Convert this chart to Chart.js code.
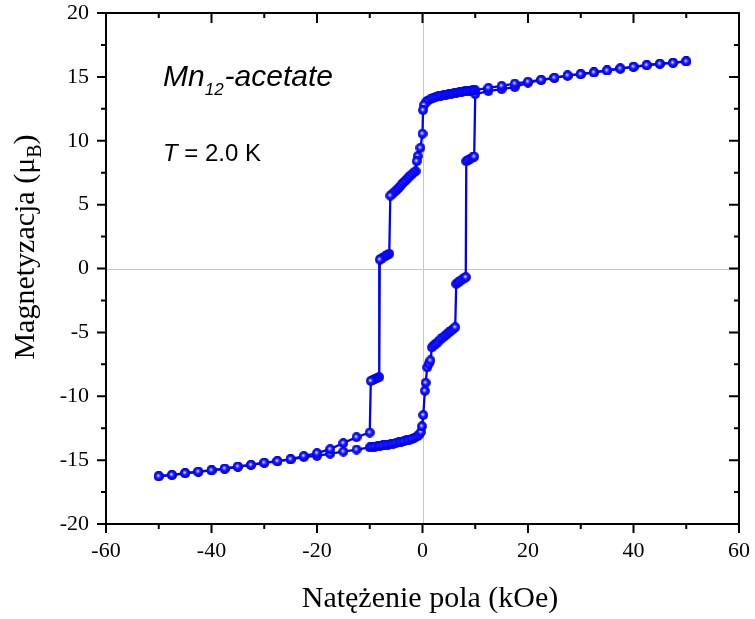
<!DOCTYPE html>
<html>
<head>
<meta charset="utf-8">
<script src="https://cdn.jsdelivr.net/npm/chart.js@4.4.1/dist/chart.umd.min.js"></script>
<style>
html,body{margin:0;padding:0;background:#fff;}
#wrap{width:755px;height:619px;}
</style>
</head>
<body>
<div id="wrap"><canvas id="c" width="755" height="619"></canvas></div>
<script>
// Descending branch (field swept from +50 to -50 kOe)
const descField = [50,47.5,45,42.5,40,37.5,35,32.5,30,27.5,25,22.5,20,17.5,15,12.5,10,
  9.5,9,8.5,8,7.5,7,6.5,6,5.5,5,4.5,4,3.5,3,2.5,2,1.5,1,0.6,0.3,0.1,0,-0.4,-0.9,-1.1,
  -1.3,-1.7,-2.1,-2.5,-2.9,-3.3,-3.7,-4.1,-4.5,-4.9,-5.3,-5.7,-6.1,
  -6.3,-6.7,-7.1,-7.5,-7.9,-8.1,
  -8.2,-8.6,-9.0,-9.4,-9.8,
  -10,-12.5,-15,-17.5,-20,-22.5,-25,-27.5,-30,-32.5,-35,-37.5,-40,-42.5,-45,-47.5,-50];
const descM = [16.21,16.1,16.03,15.92,15.79,15.66,15.5,15.35,15.22,15.11,14.93,14.77,14.62,14.48,14.3,14.14,13.96,
  13.94,13.91,13.88,13.86,13.83,13.8,13.77,13.73,13.69,13.65,13.61,13.57,13.52,13.47,13.41,13.34,13.26,13.15,13.0,12.8,12.4,10.55,9.45,8.8,8.4,
  7.62,7.5,7.35,7.2,7.02,6.85,6.7,6.5,6.32,6.15,6.0,5.85,5.7,
  1.15,1.05,0.95,0.86,0.76,0.7,
  -8.5,-8.57,-8.64,-8.72,-8.8,
  -12.84,-13.2,-13.66,-14.14,-14.45,-14.68,-14.92,-15.07,-15.2,-15.37,-15.5,-15.66,-15.79,-15.9,-16.01,-16.15,-16.26];

// Ascending branch (field swept from -50 to +50 kOe)
const ascField = [-50,-47.5,-45,-42.5,-40,-37.5,-35,-32.5,-30,-27.5,-25,-22.5,-20,-17.5,-15,-12.5,
  -10,-9.5,-9,-8.5,-8,-7.5,-7,-6.5,-6,-5.5,-5,-4.5,-4,-3.5,-3,-2.5,-2,-1.5,-1,-0.6,-0.3,-0.1,
  0.15,0.45,0.6,0.9,1.2,1.5,
  1.8,2.2,2.6,3.0,3.4,3.8,4.2,4.6,5.0,5.4,5.8,6.2,
  6.4,6.8,7.2,7.6,8.0,8.2,
  8.3,8.7,9.1,9.5,9.8,
  10,12.5,15,17.5,20,22.5,25,27.5,30,32.5,35,37.5,40,42.5,45,47.5,50];
const ascM = [-16.26,-16.17,-16.03,-15.92,-15.8,-15.68,-15.52,-15.38,-15.22,-15.1,-14.95,-14.76,-14.67,-14.5,-14.33,-14.17,
  -14.0,-13.97,-13.94,-13.91,-13.88,-13.85,-13.81,-13.78,-13.74,-13.7,-13.66,-13.62,-13.57,-13.52,-13.46,-13.4,-13.33,-13.25,-13.14,-13.0,-12.8,-12.35,
  -11.47,-9.57,-8.94,-7.74,-7.45,-7.2,
  -6.17,-6.0,-5.88,-5.72,-5.55,-5.42,-5.28,-5.15,-5.0,-4.88,-4.75,-4.6,
  -1.2,-1.08,-0.95,-0.84,-0.72,-0.68,
  8.4,8.5,8.6,8.7,8.76,
  13.65,13.88,14.04,14.2,14.55,14.75,14.92,15.09,15.21,15.35,15.5,15.65,15.79,15.91,16.02,16.11,16.21];

const xTicks = [-60,-40,-20,0,20,40,60];
const yTicks = [-20,-15,-10,-5,0,5,10,15,20];
const xTitle = 'Natężenie pola (kOe)';
const yTitleMain = 'Magnetyzacja (μ';
const yTitleSub = 'B';
const yTitleEnd = ')';
const labelName = 'Mn';
const labelSub = '12';
const labelRest = '-acetate';
const tempVar = 'T';
const tempText = ' = 2.0 K';

function zip(xs, ys){ return xs.map((x,i)=>({x:x, y:ys[i]})); }

// sphere-like marker
function makeSphere(){
  const s = 10;
  const cv = document.createElement('canvas');
  cv.width = s; cv.height = s;
  const g = cv.getContext('2d');
  const grad = g.createRadialGradient(4.3,4.3,0.2,5,5,5);
  grad.addColorStop(0,'#f0f0ff');
  grad.addColorStop(0.2,'#8080ff');
  grad.addColorStop(0.45,'#1818ff');
  grad.addColorStop(0.85,'#0000f5');
  grad.addColorStop(1,'#0000cc');
  g.fillStyle = grad;
  g.beginPath(); g.arc(5,5,4.9,0,Math.PI*2); g.fill();
  return cv;
}
const sphere = makeSphere();

const SERIF = "'Liberation Serif','Times New Roman',serif";
const SANS = "'Liberation Sans',Arial,sans-serif";

const decor = {
  id:'decor',
  beforeDatasetsDraw(chart){
    const ctx = chart.ctx, a = chart.chartArea;
    const xs = chart.scales.x, ys = chart.scales.y;
    ctx.save();
    ctx.strokeStyle = '#c8c8c8';
    ctx.lineWidth = 1;
    const x0 = Math.round(xs.getPixelForValue(0))+0.5;
    const y0 = Math.round(ys.getPixelForValue(0))+0.5;
    ctx.beginPath();
    ctx.moveTo(x0,a.top); ctx.lineTo(x0,a.bottom);
    ctx.moveTo(a.left,y0); ctx.lineTo(a.right,y0);
    ctx.stroke();
    ctx.restore();
  },
  afterDraw(chart){
    const ctx = chart.ctx, a = chart.chartArea;
    const xs = chart.scales.x, ys = chart.scales.y;
    ctx.save();
    ctx.strokeStyle = '#000';
    ctx.lineWidth = 2;
    ctx.strokeRect(a.left, a.top, a.right-a.left, a.bottom-a.top);
    for (let v=-60; v<=60; v+=10){
      const major = (v % 20 === 0);
      const px = xs.getPixelForValue(v);
      ctx.beginPath();
      ctx.moveTo(px, a.bottom); ctx.lineTo(px, a.bottom + (major?9:5));
      ctx.moveTo(px, a.top); ctx.lineTo(px, a.top + (major?10:5));
      ctx.stroke();
    }
    for (let v=-20; v<=20; v+=2.5){
      const major = (Math.abs(v % 5) < 1e-9);
      const py = ys.getPixelForValue(v);
      ctx.beginPath();
      ctx.moveTo(a.left, py); ctx.lineTo(a.left - (major?9:5), py);
      ctx.moveTo(a.right, py); ctx.lineTo(a.right - (major?10:5), py);
      ctx.stroke();
    }
    ctx.fillStyle = '#000';
    ctx.font = '30px ' + SERIF;
    ctx.textAlign = 'center';
    ctx.textBaseline = 'alphabetic';
    ctx.fillText(xTitle, 430, 607);
    ctx.save();
    ctx.translate(34, 247);
    ctx.rotate(-Math.PI/2);
    ctx.textAlign = 'left';
    ctx.font = '30px ' + SERIF;
    const w1 = ctx.measureText(yTitleMain).width;
    const w3 = ctx.measureText(yTitleEnd).width;
    ctx.font = '20px ' + SERIF;
    const w2 = ctx.measureText(yTitleSub).width;
    let sx = -(w1+w2+w3)/2;
    ctx.font = '30px ' + SERIF;
    ctx.fillText(yTitleMain, sx, 0);
    ctx.font = '20px ' + SERIF;
    ctx.fillText(yTitleSub, sx + w1, 7);
    ctx.font = '30px ' + SERIF;
    ctx.fillText(yTitleEnd, sx + w1 + w2, 0);
    ctx.restore();
    ctx.textAlign = 'left';
    ctx.font = 'italic 30px ' + SANS;
    let x = 163;
    ctx.fillText(labelName, x, 86);
    x += ctx.measureText(labelName).width;
    ctx.font = 'italic 17px ' + SANS;
    ctx.fillText(labelSub, x, 95);
    x += ctx.measureText(labelSub).width + 1;
    ctx.font = 'italic 30px ' + SANS;
    ctx.fillText(labelRest, x, 86);
    ctx.font = 'italic 24px ' + SANS;
    x = 163;
    ctx.fillText(tempVar, x, 161);
    x += ctx.measureText(tempVar).width;
    ctx.font = '24px ' + SANS;
    ctx.fillText(tempText, x, 161);
    ctx.restore();
  }
};

const dsCommon = {
  showLine: true,
  borderColor: '#0000ff',
  borderWidth: 2.3,
  backgroundColor: '#0000ff',
  pointStyle: sphere,
  pointRadius: 5,
  pointHoverRadius: 5,
  tension: 0,
  fill: false
};

new Chart(document.getElementById('c'), {
  type: 'scatter',
  data: {
    datasets: [
      Object.assign({label:'desc', data: zip(descField, descM)}, dsCommon),
      Object.assign({label:'asc', data: zip(ascField, ascM)}, dsCommon)
    ]
  },
  options: {
    responsive: false,
    animation: false,
    events: [],
    layout: { padding: { top: 13, right: 16, bottom: 0, left: 0 } },
    plugins: { legend: {display:false}, tooltip: {enabled:false} },
    scales: {
      x: {
        type: 'linear', min: -60, max: 60,
        afterBuildTicks: s => { s.ticks = xTicks.map(v=>({value:v})); },
        afterFit: s => { s.height = 95; s.paddingLeft = 0; s.paddingRight = 0; },
        grid: { display: false, drawTicks: false },
        border: { display: false },
        ticks: { color:'#000', padding: 14, maxRotation: 0, autoSkip: false,
                 font: { family: "'Liberation Serif'", size: 22 } }
      },
      y: {
        type: 'linear', min: -20, max: 20,
        afterBuildTicks: s => { s.ticks = yTicks.map(v=>({value:v})); },
        afterFit: s => { s.width = 106; s.paddingTop = 0; s.paddingBottom = 0; },
        grid: { display: false, drawTicks: false },
        border: { display: false },
        ticks: { color:'#000', padding: 17, autoSkip: false,
                 font: { family: "'Liberation Serif'", size: 22 } }
      }
    }
  },
  plugins: [decor]
});
</script>
</body>
</html>
